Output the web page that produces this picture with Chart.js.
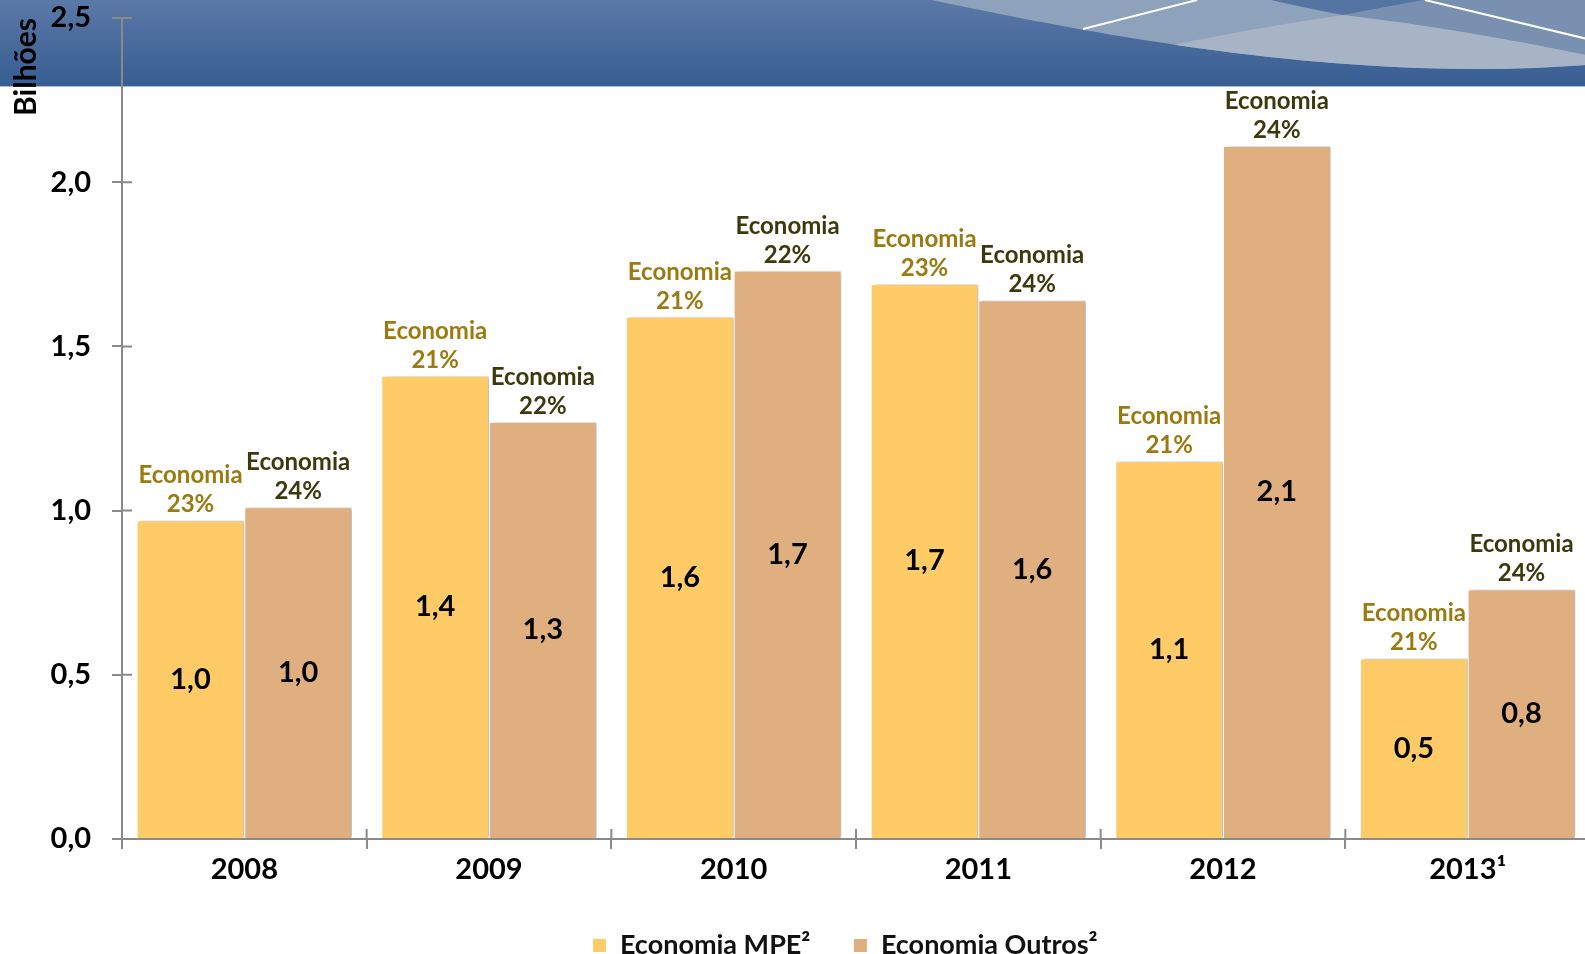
<!DOCTYPE html>
<html>
<head>
<meta charset="utf-8">
<script src="https://cdn.jsdelivr.net/npm/chart.js@4/dist/chart.umd.min.js"></script>
<style>
  html, body { margin: 0; padding: 0; background: #fff; overflow: hidden; }
  #wrap { width: 1585px; height: 954px; overflow: hidden; }
</style>
</head>
<body>
<div id="wrap"><canvas id="chart" width="1590" height="954"></canvas></div>
<script>
// values (billions)
const years = ['2008', '2009', '2010', '2011', '2012', '2013¹']
const mpeValues = [0.97, 1.41, 1.59, 1.69, 1.15, 0.55]
const outrosValues = [1.01, 1.27, 1.73, 1.64, 2.11, 0.76]
const mpeLabels = ['1,0', '1,4', '1,6', '1,7', '1,1', '0,5']
const outrosLabels = ['1,0', '1,3', '1,7', '1,6', '2,1', '0,8']
const mpeShare = ['23%', '21%', '21%', '23%', '21%', '21%']
const outrosShare = ['24%', '22%', '22%', '24%', '24%', '24%']
const yTicks = ['0,0', '0,5', '1,0', '1,5', '2,0', '2,5']

const axisGray = '#8a8a8a'
Chart.defaults.font.family = 'Lato'

// blue banner across the top, drawn under everything
const banner = {
  id: 'banner',
  beforeDraw (chart) {
    const ctx = chart.ctx
    const w = chart.width
    ctx.save()
    const g = ctx.createLinearGradient(0, 0, 0, 87)
    g.addColorStop(0, '#5a79a6')
    g.addColorStop(1, '#375d92')
    ctx.fillStyle = g
    ctx.fillRect(0, 0, w, 87)

    // light sweep
    ctx.beginPath()
    ctx.moveTo(931, 0)
    ctx.bezierCurveTo(1100, 35, 1350, 85, 1600, 64)
    ctx.lineTo(1600, 0)
    ctx.closePath()
    ctx.fillStyle = '#8ea2bc'
    ctx.fill()
    ctx.save()
    ctx.clip()
    // upper right part
    ctx.beginPath()
    ctx.moveTo(1343, 15)
    ctx.quadraticCurveTo(1470, 30, 1600, 58)
    ctx.lineTo(1600, 0)
    ctx.lineTo(1424, 0)
    ctx.closePath()
    ctx.fillStyle = '#7990b0'
    ctx.fill()
    // dark wedge
    ctx.beginPath()
    ctx.moveTo(1271, 0)
    ctx.quadraticCurveTo(1310, 9, 1343, 15)
    ctx.quadraticCurveTo(1385, 7, 1424, 0)
    ctx.closePath()
    ctx.fillStyle = '#5474a2'
    ctx.fill()
    // lightest lens
    ctx.beginPath()
    ctx.moveTo(1150, 50)
    ctx.quadraticCurveTo(1250, 28, 1343, 15)
    ctx.quadraticCurveTo(1470, 30, 1600, 58)
    ctx.lineTo(1600, 100)
    ctx.lineTo(1150, 100)
    ctx.closePath()
    ctx.fillStyle = '#a6b4c5'
    ctx.fill()
    ctx.restore()

    // white strokes
    ctx.strokeStyle = '#ffffff'
    ctx.lineWidth = 2
    ctx.beginPath()
    ctx.moveTo(1083, 29)
    ctx.lineTo(1197, 0)
    ctx.moveTo(1425, 0)
    ctx.lineTo(1600, 42)
    ctx.stroke()

    ctx.fillStyle = '#a9bad2'
    ctx.fillRect(0, 86, w, 1)
    ctx.restore()

    // legend sits a little left of the plot centre in the original
    if (chart.legend) {
      chart.legend.left -= 11
      chart.legend.right -= 11
    }
  }
}

// soft shadow on the bars
const barShadow = {
  id: 'barShadow',
  beforeDatasetDraw (chart) {
    const ctx = chart.ctx
    ctx.save()
    ctx.shadowColor = 'rgba(0,0,0,0.28)'
    ctx.shadowBlur = 4
    ctx.shadowOffsetX = 3
    ctx.shadowOffsetY = 0
  },
  afterDatasetDraw (chart) {
    chart.ctx.restore()
  }
}

// tick marks crossing the axes + value and share labels
const overlay = {
  id: 'overlay',
  afterDatasetsDraw (chart) {
    const ctx = chart.ctx
    const x = chart.scales.x
    const y = chart.scales.y
    ctx.save()
    ctx.strokeStyle = axisGray
    ctx.lineWidth = 2
    ctx.beginPath()
    y.ticks.forEach((t, i) => {
      const py = y.getPixelForTick(i)
      ctx.moveTo(y.right, py)
      ctx.lineTo(y.right + 10, py)
    })
    const half = (x.getPixelForValue(1) - x.getPixelForValue(0)) / 2
    for (let i = 0; i <= years.length; i++) {
      const px = x.getPixelForValue(i) - half
      ctx.moveTo(px, x.top)
      ctx.lineTo(px, x.top - 10)
    }
    ctx.stroke()

    const sets = [
      { labels: mpeLabels, share: mpeShare, color: '#9b7a10' },
      { labels: outrosLabels, share: outrosShare, color: '#3b3a0c' }
    ]
    ctx.textAlign = 'center'
    ctx.textBaseline = 'middle'
    sets.forEach((s, d) => {
      chart.getDatasetMeta(d).data.forEach((bar, i) => {
        ctx.fillStyle = '#000'
        ctx.font = 'bold 29px Lato'
        ctx.fillText(s.labels[i], bar.x, (bar.y + bar.base) / 2)
        ctx.fillStyle = s.color
        ctx.font = 'bold 24px Lato'
        ctx.fillText('Economia', bar.x, bar.y - 45)
        ctx.fillText(s.share[i], bar.x, bar.y - 16)
      })
    })
    ctx.restore()
  }
}

const ctx = document.getElementById('chart').getContext('2d')
const chart = new Chart(ctx, {
  type: 'bar',
  data: {
    labels: years,
    datasets: [{
      label: 'Economia MPE²',
      data: mpeValues,
      backgroundColor: '#fecb67',
      borderColor: '#ffffff',
      borderWidth: 1,
      categoryPercentage: 0.88,
      barPercentage: 1
    }, {
      label: 'Economia Outros²',
      data: outrosValues,
      backgroundColor: '#dfaf7f',
      borderColor: '#ffffff',
      borderWidth: 1,
      categoryPercentage: 0.88,
      barPercentage: 1
    }]
  },
  options: {
    responsive: false,
    animation: false,
    devicePixelRatio: 1,
    layout: { padding: { top: 0, left: 0, right: 0, bottom: 0 } },
    plugins: {
      tooltip: { enabled: false },
      legend: {
        position: 'bottom',
        fullSize: false,
        maxHeight: 65,
        labels: {
          boxWidth: 14,
          boxHeight: 14,
          padding: 43,
          color: '#111',
          font: { size: 27, weight: 'bold' }
        }
      }
    },
    scales: {
      x: {
        afterFit (scale) { scale.height = 50 },
        grid: { drawOnChartArea: false, tickLength: 10, color: axisGray, lineWidth: 2 },
        border: { color: axisGray, width: 2 },
        ticks: { color: '#000', padding: 3, font: { size: 29, weight: 'bold' } }
      },
      y: {
        min: 0,
        max: 2.5,
        afterFit (scale) {
          scale.width = 122
          scale.paddingTop = 18
          scale.paddingBottom = 0
        },
        grid: { drawOnChartArea: false, tickLength: 10, color: axisGray, lineWidth: 2 },
        border: { color: axisGray, width: 2 },
        ticks: {
          stepSize: 0.5,
          padding: 21,
          color: '#000',
          font: { size: 29, weight: 'bold' },
          callback: (v) => yTicks[Math.round(v / 0.5)]
        },
        title: {
          display: true,
          text: 'Bilhões',
          align: 'end',
          color: '#000',
          padding: { top: 8, bottom: 0 },
          font: { size: 30, weight: 'bold' }
        }
      }
    }
  },
  plugins: [banner, barShadow, overlay]
})
</script>
</body>
</html>
